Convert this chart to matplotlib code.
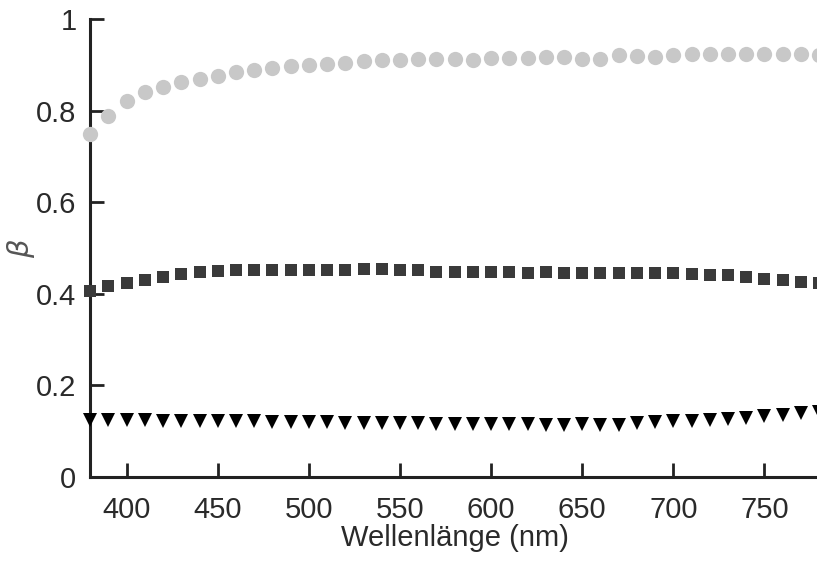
import matplotlib
matplotlib.use("Agg")
import matplotlib.pyplot as plt

# Wellenlänge in nm
wellenlaenge = list(range(380, 790, 10))

kreise = [0.749, 0.788, 0.821, 0.840, 0.852, 0.862, 0.870, 0.876, 0.884, 0.889,
          0.893, 0.897, 0.900, 0.902, 0.905, 0.908, 0.910, 0.911, 0.913, 0.913,
          0.912, 0.911, 0.916, 0.916, 0.916, 0.918, 0.917, 0.913, 0.913, 0.921,
          0.920, 0.918, 0.922, 0.923, 0.923, 0.923, 0.923, 0.923, 0.923, 0.923,
          0.922]

quadrate = [0.406, 0.416, 0.423, 0.430, 0.437, 0.443, 0.447, 0.450, 0.451, 0.451,
            0.452, 0.451, 0.451, 0.452, 0.452, 0.453, 0.453, 0.452, 0.451, 0.448,
            0.447, 0.447, 0.447, 0.447, 0.446, 0.447, 0.445, 0.445, 0.445, 0.445,
            0.445, 0.445, 0.445, 0.444, 0.442, 0.440, 0.436, 0.432, 0.429, 0.425,
            0.423]

dreiecke = [0.125, 0.125, 0.124, 0.124, 0.123, 0.123, 0.122, 0.122, 0.121, 0.121,
            0.120, 0.120, 0.119, 0.119, 0.118, 0.118, 0.117, 0.117, 0.117, 0.116,
            0.116, 0.116, 0.115, 0.115, 0.115, 0.114, 0.114, 0.115, 0.114, 0.114,
            0.117, 0.119, 0.121, 0.123, 0.125, 0.127, 0.129, 0.132, 0.135, 0.139,
            0.141]

yticks = [0, 0.2, 0.4, 0.6, 0.8, 1]
ytick_labels = ["0", "0.2", "0.4", "0.6", "0.8", "1"]
xticks = [400, 450, 500, 550, 600, 650, 700, 750]

plt.rcParams["font.family"] = ["Liberation Sans", "DejaVu Sans"]

fig = plt.figure(figsize=(8.17, 5.61), dpi=100)
ax = fig.add_axes([0.1105, 0.150, 0.892, 0.816])

ax.plot(wellenlaenge, kreise, "o", color="#c8c8c8", markersize=11,
        markeredgewidth=0, clip_on=False, zorder=5)
ax.plot(wellenlaenge, quadrate, "s", color="#3a3a3a", markersize=8,
        markeredgewidth=0, clip_on=False, zorder=5)
ax.plot(wellenlaenge, dreiecke, "v", color="black", markersize=10,
        markeredgewidth=0, clip_on=False, zorder=5)

ax.set_xlim(380, 780)
ax.set_ylim(0, 1)
ax.set_xticks(xticks)
ax.set_yticks(yticks)
ax.set_yticklabels(ytick_labels)

for s in ["top", "right"]:
    ax.spines[s].set_visible(False)
for s in ["left", "bottom"]:
    ax.spines[s].set_linewidth(2.2)
    ax.spines[s].set_color("#222222")

ax.tick_params(direction="in", length=10, width=2, color="#222222",
               labelsize=21, labelcolor="#2a2a2a")
ax.tick_params(axis="x", pad=14)
ax.tick_params(axis="y", pad=10)

ax.set_xlabel("Wellenlänge (nm)", fontsize=21, color="#2a2a2a", labelpad=0)
ax.set_ylabel(r"$\beta$", fontsize=21, color="#555555")
ax.yaxis.set_label_coords(-0.073, 0.5)

fig.savefig("out.png", dpi=100)
